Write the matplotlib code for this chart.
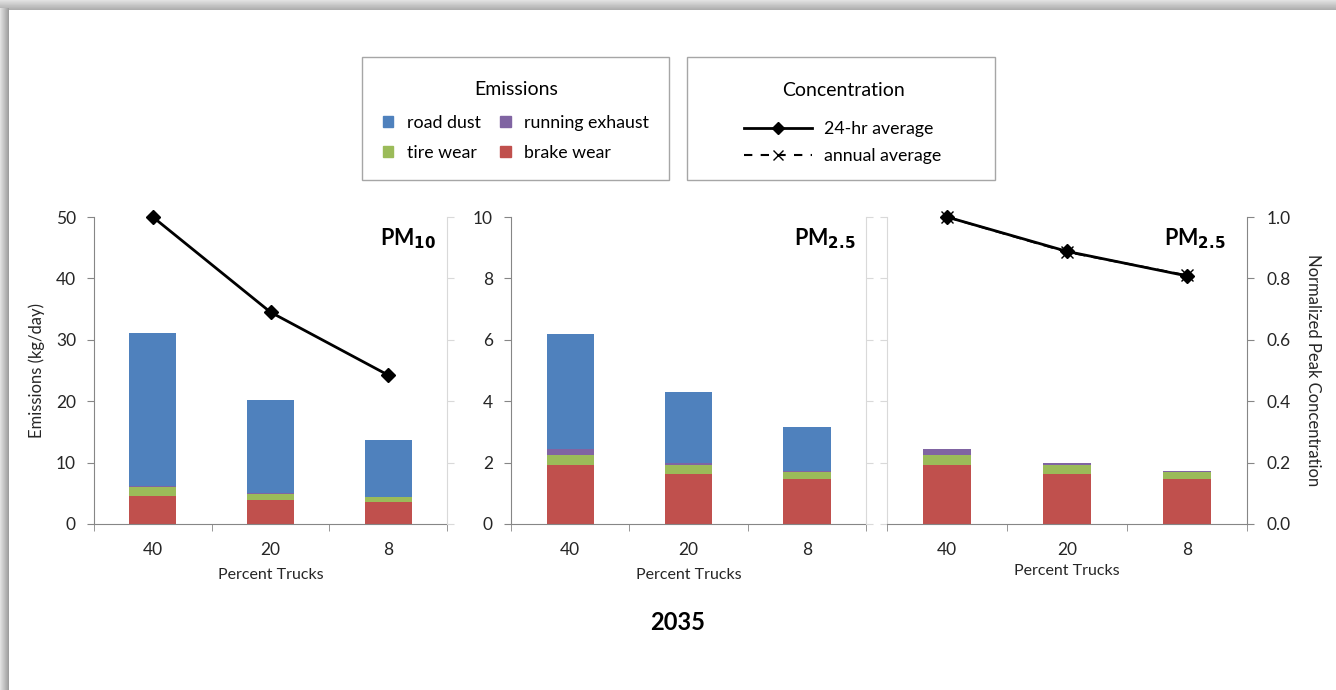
import numpy as np
import matplotlib.pyplot as plt
from matplotlib.patches import Patch, Rectangle
from matplotlib.lines import Line2D

plt.rcParams['font.family'] = ['Lato', 'DejaVu Sans']

trucks = ['40', '20', '8']

# PM10 emissions (kg/day)
pm10_brake = [4.5, 3.85, 3.6]
pm10_tire = [1.45, 1.0, 0.75]
pm10_exhaust = [0.2, 0.12, 0.07]
pm10_dust = [24.95, 15.18, 9.23]

# PM2.5 emissions (kg/day)
pm25_brake = [1.92, 1.64, 1.48]
pm25_tire = [0.33, 0.27, 0.21]
pm25_exhaust = [0.19, 0.09, 0.05]
pm25_dust = [3.74, 2.29, 1.42]

# normalized peak concentration
pm10_24hr = [1.0, 0.69, 0.485]
pm25_24hr = [1.0, 0.888, 0.808]
pm25_annual = [1.0, 0.886, 0.81]

c_dust = '#4f81bd'
c_exh = '#8064a2'
c_tire = '#9bbb59'
c_brake = '#c0504d'
dark = '#868686'
light = '#d9d9d9'
txt = '#262626'

W, H = 1336, 690
fig = plt.figure(figsize=(W / 100, H / 100), dpi=100)

# drop shadow along the top and left edge
bg = fig.add_axes([0, 0, 1, 1], zorder=-10)
bg.axis('off')
bg.set_xlim(0, W)
bg.set_ylim(H, 0)
top = np.linspace(0.88, 0.68, 10)[:, None] * np.ones((1, 2))
left = np.linspace(0.88, 0.62, 9)[None, :] * np.ones((2, 1))
bg.imshow(top, cmap='gray', vmin=0, vmax=1, extent=(0, W, 10, 0), aspect='auto')
bg.imshow(left, cmap='gray', vmin=0, vmax=1, extent=(0, 9, H, 8), aspect='auto')


def fpos(x0, x1, y0, y1):
    return [x0 / W, 1 - y1 / H, (x1 - x0) / W, (y1 - y0) / H]


def style_bar_axis(ax, ymax, step, left_dark, show_left_labels):
    x = np.arange(len(trucks))
    ax.set_xlim(-0.5, len(trucks) - 0.5)
    ax.set_ylim(0, ymax)
    ax.set_yticks(np.arange(0, ymax + step / 2, step))
    ax.set_xticks(x)
    ax.set_xticklabels(trucks)
    ax.set_xticks(np.arange(-0.5, len(trucks)), minor=True)
    ax.tick_params(axis='x', which='major', length=0, labelsize=12.5, colors=txt, pad=13)
    ax.tick_params(axis='x', which='minor', length=5, color=dark, direction='out')
    ax.spines['top'].set_visible(False)
    ax.spines['right'].set_visible(False)
    ax.spines['bottom'].set_color(dark)
    ax.spines['left'].set_color(dark if left_dark else light)
    ax.tick_params(axis='y', length=5, color=dark if left_dark else light,
                   labelsize=12.5, labelcolor=txt, labelleft=show_left_labels, pad=8)
    ax.set_xlabel('Percent Trucks', fontsize=11.5, color=txt, labelpad=7)


def stack(ax, layers):
    x = np.arange(len(trucks))
    bottom = np.zeros(len(trucks))
    for vals, col in layers:
        ax.bar(x, vals, 0.4, bottom=bottom, color=col, zorder=2)
        bottom += np.array(vals)


def right_twin(ax, dark_side, labels):
    tw = ax.twinx()
    tw.set_ylim(0, 1)
    tw.set_yticks(np.arange(0, 1.01, 0.2))
    for s in ['top', 'left', 'bottom']:
        tw.spines[s].set_visible(False)
    tw.spines['right'].set_color(dark if dark_side else light)
    tw.tick_params(axis='y', length=5, color=dark if dark_side else light,
                   labelright=labels, labelsize=12.5, labelcolor=txt, pad=9)
    if labels:
        tw.set_yticklabels([f'{v:.1f}' for v in np.arange(0, 1.01, 0.2)])
    return tw


x = np.arange(len(trucks))

# panel 1: PM10
ax1 = fig.add_axes(fpos(94, 447, 217, 524))
stack(ax1, [(pm10_brake, c_brake), (pm10_tire, c_tire),
            (pm10_exhaust, c_exh), (pm10_dust, c_dust)])
style_bar_axis(ax1, 50, 10, True, True)
ax1.set_ylabel('Emissions (kg/day)', fontsize=12, color=txt, labelpad=8)
tw1 = right_twin(ax1, False, False)
tw1.plot(x, pm10_24hr, color='black', lw=2, marker='D', ms=7, zorder=3, clip_on=False)
ax1.text(0.97, 0.93, r'PM$_{\mathbf{10}}$', transform=ax1.transAxes, ha='right',
         va='center', fontsize=15.5, fontweight='bold', color='black')

# panel 2: PM2.5
ax2 = fig.add_axes(fpos(511, 866, 217, 524))
stack(ax2, [(pm25_brake, c_brake), (pm25_tire, c_tire),
            (pm25_exhaust, c_exh), (pm25_dust, c_dust)])
style_bar_axis(ax2, 10, 2, True, True)
right_twin(ax2, False, False)
ax2.text(0.97, 0.93, r'PM$_{\mathbf{2.5}}$', transform=ax2.transAxes, ha='right',
         va='center', fontsize=15.5, fontweight='bold', color='black')

# panel 3: PM2.5 without road dust
ax3 = fig.add_axes(fpos(887, 1247, 217, 524))
stack(ax3, [(pm25_brake, c_brake), (pm25_tire, c_tire), (pm25_exhaust, c_exh)])
style_bar_axis(ax3, 10, 2, False, False)
ax3.xaxis.labelpad = 4
tw3 = right_twin(ax3, True, True)
tw3.plot(x, pm25_annual, color='black', lw=1.5, ls=(0, (5, 3)), marker='x', ms=8,
         zorder=3, clip_on=False)
tw3.plot(x, pm25_24hr, color='black', lw=2, marker='D', ms=7, zorder=4, clip_on=False)
tw3.set_ylabel('Normalized Peak Concentration', fontsize=12, color=txt,
               rotation=-90, labelpad=22)
ax3.text(0.94, 0.93, r'PM$_{\mathbf{2.5}}$', transform=ax3.transAxes, ha='right',
         va='center', fontsize=15.5, fontweight='bold', color='black')

fig.text(678 / W, 1 - 623 / H, '2035', ha='center', va='center',
         fontsize=17, fontweight='bold', color='black')

# legend boxes
for x0, x1 in [(362, 669), (687, 995)]:
    fig.add_artist(Rectangle((x0 / W, 1 - 180 / H), (x1 - x0) / W, 123 / H,
                             transform=fig.transFigure, fill=False,
                             edgecolor='#a6a6a6', lw=1))

em_handles = [Patch(color=c_dust), Patch(color=c_tire),
              Patch(color=c_exh), Patch(color=c_brake)]
em_labels = ['road dust', 'tire wear', 'running exhaust', 'brake wear']
leg1 = fig.legend(em_handles, em_labels, ncol=2, loc='center',
                  bbox_to_anchor=(516 / W, 1 - 121 / H), frameon=False,
                  title='Emissions', title_fontsize=14, fontsize=12.8,
                  handlelength=0.6, handleheight=0.6, handletextpad=0.75,
                  columnspacing=1.1, labelspacing=0.8)
leg1._legend_box.sep = 12

co_handles = [Line2D([], [], color='black', lw=2, marker='D', ms=6),
              Line2D([], [], color='black', lw=1.5, ls=(0, (4, 4)), marker='x', ms=7)]
co_labels = ['24-hr average', 'annual average']
leg2 = fig.legend(co_handles, co_labels, loc='center',
                  bbox_to_anchor=(843 / W, 1 - 123 / H), frameon=False,
                  title='Concentration', title_fontsize=14, fontsize=12.8,
                  handlelength=3.8, handletextpad=0.7, labelspacing=0.65)
leg2._legend_box.sep = 16

fig.savefig('out.png', dpi=100)
